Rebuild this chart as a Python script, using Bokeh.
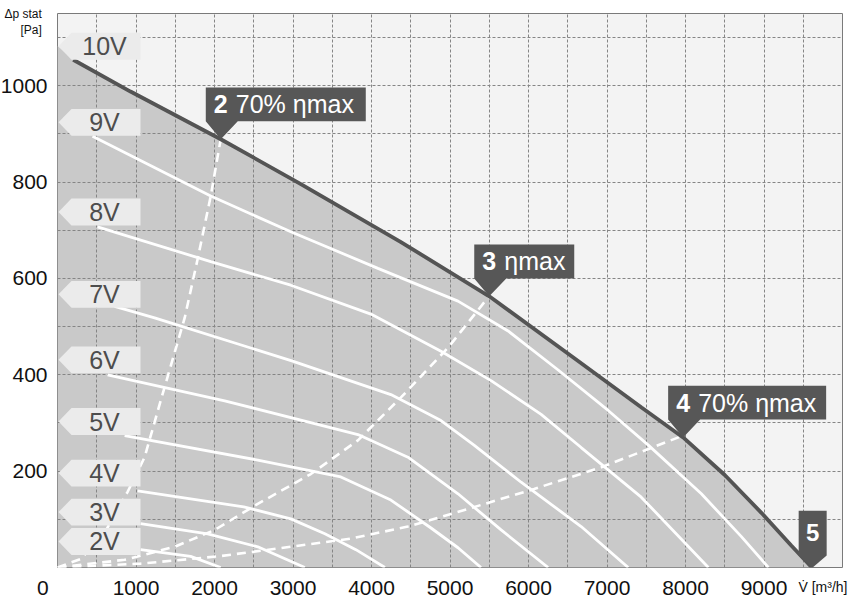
from bokeh.plotting import figure
from bokeh.models import Range1d, FixedTicker, SingleIntervalTicker, LinearAxis
from bokeh.core.properties import value
from bokeh.embed import file_html
from bokeh.resources import INLINE

# ---------------- data ----------------
x_ticks = [0, 1000, 2000, 3000, 4000, 5000, 6000, 7000, 8000, 9000]
y_ticks = [200, 400, 600, 800, 1000]
x_title = "V̇ [m³/h]"
y_title = "Δp stat\n[Pa]"

voltages = ["2V", "3V", "4V", "5V", "6V", "7V", "8V", "9V", "10V"]
label_p = [54, 115, 196, 303, 431, 567, 738, 924, 1082]

q10 = [0, 200, 930, 2080, 3100, 4370, 5500, 6580, 7440, 7970, 8500, 8970, 9350, 9610]
p10 = [1083, 1054, 988, 889, 796, 676, 563, 435, 332, 270, 192, 113, 45, 0]

q9 = [446, 1952, 2972, 4082, 5102, 5740, 6378, 7015, 7526, 8202, 8712, 9056]
p9 = [895, 771, 697, 621, 553, 491, 410, 326, 254, 153, 64, 0]

q8 = [510, 1952, 2972, 3992, 4885, 5523, 6161, 6671, 7436, 8291]
p8 = [707, 635, 586, 526, 449, 388, 318, 249, 146, 0]

q7 = [727, 1237, 2985, 4247, 4885, 5306, 5906, 6671, 7270]
p7 = [542, 518, 429, 359, 305, 254, 177, 85, 0]

q6 = [638, 2130, 3827, 4464, 5102, 5651, 6250]
p6 = [400, 346, 276, 229, 153, 78, 0]

q5 = [855, 2551, 3610, 4247, 4758, 5102, 5395]
p5 = [274, 223, 188, 140, 82, 41, 0]

q4 = [1020, 2372, 2972, 3406, 3801, 4171]
p4 = [159, 126, 101, 70, 37, 0]

q3 = [1059, 1913, 2551, 3151]
p3 = [91, 70, 43, 0]

q2 = [1059, 1696, 2079]
p2 = [37, 23, 0]

# efficiency lines (dashed)
e2_q = [0, 300, 600, 893, 1110, 1314, 1620, 1786, 1952, 2079]
e2_p = [0, 18, 72, 157, 229, 346, 518, 641, 771, 889]
e3_q = [0, 855, 1492, 2003, 2551, 3227, 3827, 4375, 4974, 5497]
e3_p = [0, 16, 43, 78, 132, 194, 264, 353, 456, 563]
e4_q = [0, 1059, 2041, 2972, 3737, 4464, 5013, 6071, 6926, 7972]
e4_p = [0, 8, 23, 43, 60, 85, 111, 163, 208, 274]

# operating-point callouts
pt_num = ["2", "3", "4"]
pt_text = ["70% ηmax", "ηmax", "70% ηmax"]
pt_q = [2080, 5500, 7970]
pt_p = [889, 563, 270]
end_num = "5"
end_q = 9620
end_p = 0

# ---------------- layout ----------------
W, H = 850, 601
BL, BT, BR, BB = 57, 13, 8, 31
FW, FH = W - BL - BR, H - BT - BB
XMAX, YMAX = 10000, 1150
sx = FW / XMAX
sy = FH / YMAX


def dx(px):
    return px / sx


def dy(px):
    return px / sy


FONT = "Liberation Sans"
NB = "\u00a0"

p = figure(width=W, height=H,
           x_range=Range1d(0, XMAX), y_range=Range1d(0, YMAX),
           output_backend="svg", toolbar_location=None,
           min_border_left=BL, min_border_top=BT, min_border_right=BR, min_border_bottom=BB,
           background_fill_color="#f3f3f3", border_fill_color="white",
           outline_line_color="#7a7a7a", outline_line_width=1)

# extra axis on the right only carries the flow-rate title at the lower right
ra = LinearAxis(ticker=FixedTicker(ticks=[]), major_label_standoff=0)
p.add_layout(ra, "right")


def style_axis(ax):
    ax.axis_line_color = None
    ax.major_tick_line_color = None
    ax.minor_tick_line_color = None
    ax.major_tick_out = 0
    ax.major_tick_in = 0
    ax.minor_tick_out = 0
    ax.minor_tick_in = 0
    ax.major_label_text_font = FONT
    ax.major_label_text_font_size = "21px"
    ax.major_label_text_color = "#111111"
    ax.axis_label_text_font = FONT
    ax.axis_label_text_font_style = "normal"
    ax.axis_label_text_color = "#111111"


for ax in (p.xaxis[0], p.yaxis[0], ra):
    style_axis(ax)

xa = p.xaxis[0]
xa.ticker = FixedTicker(ticks=x_ticks)
xa.major_label_overrides = {0: "0" + NB * 5}
xa.major_label_standoff = 8

ya = p.yaxis[0]
ya.ticker = FixedTicker(ticks=y_ticks)
ya.major_label_standoff = 10
ya.axis_label = "\n" + y_title
ya.axis_label_text_font_size = "12px"
ya.axis_label_orientation = "horizontal"
ya.axis_label_align = "end"
ya.axis_label_standoff = -44

ra.axis_label = "\n\n" + x_title
ra.axis_label_text_font_size = "14px"
ra.axis_label_orientation = "horizontal"
ra.axis_label_align = "start"
ra.axis_label_standoff = -44

# grid
p.xgrid[0].ticker = SingleIntervalTicker(interval=500)
p.ygrid[0].ticker = SingleIntervalTicker(interval=100)
for g in (p.xgrid[0], p.ygrid[0]):
    g.grid_line_color = "#858585"
    g.grid_line_dash = "3 2"
    g.grid_line_width = 1

# shaded operating area
p.patch(q10 + [q10[-1], 0], p10 + [0, 0], fill_color="#c9c9c9", line_color=None, level="image")

# voltage curves
p.multi_line([q2, q3, q4, q5, q6, q7, q8, q9], [p2, p3, p4, p5, p6, p7, p8, p9],
             line_color="white", line_width=2.8)

# efficiency lines
p.multi_line([e2_q, e3_q, e4_q], [e2_p, e3_p, e4_p], line_color="white",
             line_width=2.6, line_dash="9 6")

# 10V boundary (the line itself emerges from under the 10V tag)
p.line(q10[1:], p10[1:], line_color="#545454", line_width=3.8)

# voltage labels (arrow boxes)
lab_xs, lab_ys = [], []
for yv in label_p:
    h = dy(13.5)
    lab_xs.append([dx(1), dx(14), dx(83), dx(83), dx(14)])
    lab_ys.append([yv, yv + h, yv + h, yv - h, yv - h])
p.patches(lab_xs, lab_ys, fill_color="#ebebeb", line_color=None)
p.text([dx(47)] * len(voltages), label_p, text=voltages, text_font=value(FONT),
       text_font_size="25px", text_color="#4d4d4d", text_align="center", text_baseline="middle")

# callouts
widths = [160, 100, 158]
c_xs, c_ys = [], []
num_x, num_y, rest_x = [], [], []
for q, pv, w in zip(pt_q, pt_p, widths):
    left = q - dx(15)
    bot = pv + dy(18)
    top = bot + dy(34)
    right = left + dx(w)
    c_xs.append([left, left, right, right, left + dx(32), q])
    c_ys.append([bot, top, top, bot, bot, pv])
    num_x.append(left + dx(8))
    rest_x.append(left + dx(30))
    num_y.append((bot + top) / 2)
c_xs.append([end_q - dx(14), end_q - dx(14), end_q + dx(14), end_q + dx(14), end_q])
c_ys.append([end_p + dy(12), end_p + dy(57), end_p + dy(57), end_p + dy(12), end_p])
p.patches(c_xs, c_ys, fill_color="#575757", line_color=None)
p.text(num_x, num_y, text=pt_num, text_font=value(FONT), text_font_size="25px",
       text_font_style="bold", text_color="white", text_align="left", text_baseline="middle")
p.text(rest_x, num_y, text=pt_text, text_font=value(FONT), text_font_size="25px",
       text_color="white", text_align="left", text_baseline="middle")
p.text([end_q], [end_p + dy(35)], text=[end_num], text_font=value(FONT), text_font_size="24px",
       text_font_style="bold", text_color="white", text_align="center", text_baseline="middle")

open("out.html", "w").write(file_html(p, INLINE))
